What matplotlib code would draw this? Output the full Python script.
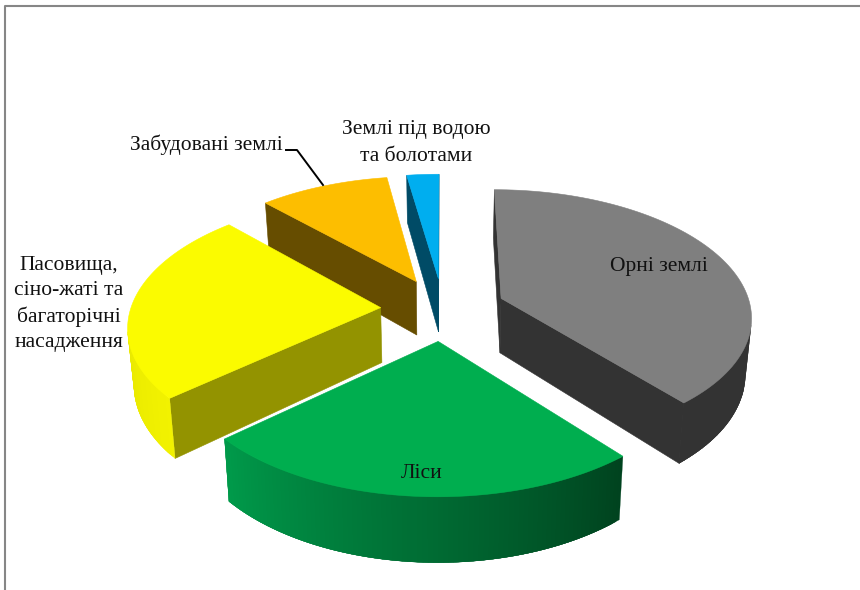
import numpy as np
import matplotlib
matplotlib.use('Agg')
import matplotlib.pyplot as plt
from matplotlib.colors import to_rgb

labels = ['Орні землі', 'Ліси', 'Пасовища,\nсіно-жаті та\nбагаторічні\nнасадження',
          'Забудовані землі', 'Землі під водою\nта болотами']
values = [38.9, 24.6, 24.4, 9.7, 2.4]

top_colors = ['#7f7f7f', '#00ae4f', '#fbfb00', '#fdbe00', '#00aeef']
wall_colors = ['#333333', '#00431f', '#939300', '#664d00', '#004b66']
rim_start = ['#333333', '#00431f', '#f2f200', '#997300', '#006f96']
rim_end = ['#333333', '#009a4a', '#d8d800', '#997300', '#006f96']

# fake 3d view: pixels per radius, tilt and depth of the camera
cx, cy = 443, 309
rx, ry = 250, 125.6
height = 55
depth = 7.6
explode = 0.25
converge = 0.02  # verticals lean in a little towards the bottom


def project(x, y, z=0.0):
    x, y, z = np.asarray(x), np.asarray(y), np.asarray(z)
    s = 1 / (1 + y / depth)
    return cx + rx * x * s * (1 + converge * z), cy - (ry * y + height * z) * s


def draw_face(ax, px, py, color, lw=0.4):
    ax.fill(px, py, facecolor=color, edgecolor=color, linewidth=lw)


def facing(px, py):
    # all side faces wind the same way, so the sign tells front from back
    return np.sum(px * np.roll(py, -1) - np.roll(px, -1) * py) < 0


def draw_wedge(ax, a0, a1, i):
    mid = (a0 + a1) / 2
    ox, oy = explode * np.sin(mid), explode * np.cos(mid)
    t = np.linspace(a0, a1, 90)
    xs, ys = ox + np.sin(t), oy + np.cos(t)
    wz = np.array([0, 0, -1, -1])

    # straight walls
    walls = [(ox, oy, xs[0], ys[0]), (xs[-1], ys[-1], ox, oy)]
    for x0, y0, x1, y1 in walls:
        px, py = project(np.array([x0, x1, x1, x0]), np.array([y0, y1, y1, y0]), wz)
        if facing(px, py):
            draw_face(ax, px, py, wall_colors[i])

    # outer rim in strips, each one runs under the next so no seams show
    c0, c1 = np.array(to_rgb(rim_start[i])), np.array(to_rgb(rim_end[i]))
    n = len(t) - 1
    for j in range(n):
        k = j + 1
        px, py = project(np.array([xs[j], xs[k], xs[k], xs[j]]), np.array([ys[j], ys[k], ys[k], ys[j]]), wz)
        if not facing(px, py):
            continue
        k = min(j + 3, n)
        px, py = project(np.array([xs[j], xs[k], xs[k], xs[j]]), np.array([ys[j], ys[k], ys[k], ys[j]]), wz)
        draw_face(ax, px, py, c0 + (c1 - c0) * j / (n - 1), lw=0.2)

    px, py = project(np.r_[ox, xs], np.r_[oy, ys])
    draw_face(ax, px, py, top_colors[i])


fig = plt.figure(figsize=(8.6, 5.9), dpi=100)
ax = fig.add_axes([0, 0, 1, 1])
ax.set_xlim(0, 860)
ax.set_ylim(590, 0)
ax.axis('off')

# chart frame, only left and top are inside the crop
ax.plot([5, 5, 860], [590, 6, 6], color='#868686', lw=1.5)

edges = np.radians(np.r_[0, np.cumsum(values)] / np.sum(values) * 360)
# back slices first
for i in [4, 3, 0, 2, 1]:
    draw_wedge(ax, edges[i], edges[i + 1], i)

font = dict(family='Liberation Serif', fontsize=15.5, color='#111111', ha='center', va='center')
ax.text(659, 267, labels[0], **font)
ax.text(422, 473, labels[1], **font)
ax.text(69, 304, labels[2], linespacing=1.43, **font)
ax.text(206, 145, labels[3], **font)
ax.text(416, 143, labels[4], linespacing=1.6, **font)

ax.plot([286, 297, 323], [150, 150, 185], color='black', lw=1.4)

fig.savefig('out.png', dpi=100)
